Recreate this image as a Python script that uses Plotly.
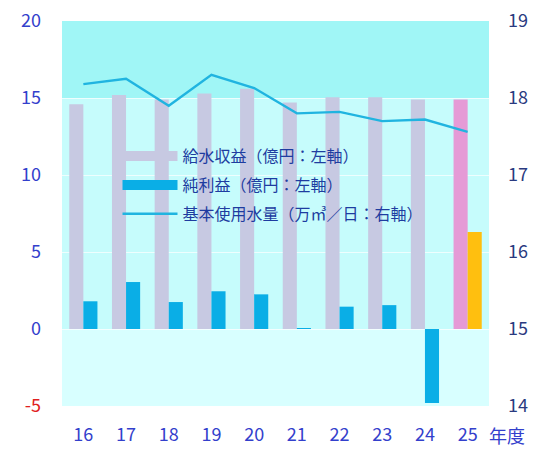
import plotly.graph_objects as go

years = ["16", "17", "18", "19", "20", "21", "22", "23", "24", "25"]
revenue = [14.6, 15.2, 14.9, 15.3, 15.6, 14.7, 15.05, 15.05, 14.9, 14.9]      # 給水収益 (億円)
net_profit = [1.8, 3.05, 1.75, 2.45, 2.25, 0.05, 1.45, 1.55, -4.8, 6.3]     # 純利益 (億円)
water_volume = [18.18, 18.25, 17.9, 18.3, 18.13, 17.8, 17.82, 17.7, 17.72, 17.56]  # 基本使用水量 (万㎥/日)

left_ticks = [-5, 0, 5, 10, 15, 20]
right_ticks = [14, 15, 16, 17, 18, 19]

names = ["給水収益（億円：左軸）", "純利益（億円：左軸）", "基本使用水量（万㎥／日：右軸）"]

GRAY = "#C7C9E2"
PINK = "#E59AD6"
BLUE = "#0AAEE6"
ORANGE = "#FFBF0F"
LINE = "#20B4E0"
TXT = "#3340CC"

rev_colors = [GRAY] * (len(years) - 1) + [PINK]
np_colors = [BLUE] * (len(years) - 1) + [ORANGE]

fig = go.Figure()
fig.add_trace(go.Bar(x=years, y=revenue, marker=dict(color=rev_colors, line=dict(width=0)),
                     showlegend=False, offsetgroup="a", yaxis="y"))
fig.add_trace(go.Bar(x=years, y=net_profit, marker=dict(color=np_colors, line=dict(width=0)),
                     showlegend=False, offsetgroup="b", yaxis="y"))
# legend-only entries
fig.add_trace(go.Scatter(x=[None], y=[None], mode="lines", line=dict(color=GRAY, width=10),
                         name=names[0], legendgroup="g1"))
fig.add_trace(go.Scatter(x=[None], y=[None], mode="lines", line=dict(color=BLUE, width=10),
                         name=names[1], legendgroup="g2"))
fig.add_trace(go.Scatter(x=years, y=water_volume, mode="lines", line=dict(color=LINE, width=2.4),
                         name=names[2], yaxis="y2", legendgroup="g3"))

# background bands
fig.add_shape(type="rect", xref="paper", yref="y", x0=0, x1=1, y0=15, y1=20,
              fillcolor="#A0F6F6", line=dict(width=0), layer="below")
fig.add_shape(type="rect", xref="paper", yref="y", x0=0, x1=1, y0=0, y1=15,
              fillcolor="#C6FCFC", line=dict(width=0), layer="below")
fig.add_shape(type="rect", xref="paper", yref="y", x0=0, x1=1, y0=-5, y1=0,
              fillcolor="#D8FFFF", line=dict(width=0), layer="below")

FONT = "Noto Sans CJK JP"
fig.update_layout(
    width=535, height=453,
    margin=dict(l=62, r=46, t=21, b=47, autoexpand=False),
    paper_bgcolor="white", plot_bgcolor="#D8FFFF",
    barmode="group", bargap=0.34, bargroupgap=0,
    font=dict(family=FONT, color=TXT),
    xaxis=dict(type="category", range=[-0.5, 9.5], showgrid=False, zeroline=False, showline=False,
               ticks="", tickfont=dict(size=18, color=TXT), ticklabelstandoff=16, automargin=False),
    yaxis=dict(range=[-5, 20], tickvals=left_ticks,
               ticktext=["<span style='color:#E02020'>-5</span>", "0", "5", "10", "15", "20"],
               tickfont=dict(size=18, color=TXT), showgrid=True,
               gridcolor="rgba(255,255,255,0.7)", gridwidth=1, zeroline=False, showline=False,
               ticklabelstandoff=20, automargin=False),
    yaxis2=dict(range=[14, 19], tickvals=right_ticks, overlaying="y", side="right",
                tickfont=dict(size=18, color="#2A3A80"), showgrid=False, zeroline=False, showline=False,
                ticklabelstandoff=18, automargin=False),
    legend=dict(x=0.13, y=0.693, xanchor="left", yanchor="top", bgcolor="rgba(0,0,0,0)",
                font=dict(size=16, color="#1E3CA0", family=FONT), itemwidth=55,
                tracegroupgap=5),
    annotations=[dict(text="年度", xref="paper", yref="paper", x=1.0, y=0, xanchor="left",
                      yanchor="bottom", yshift=-44, xshift=-2, showarrow=False,
                      font=dict(size=18, color=TXT))],
)

fig.write_html("out.html")
